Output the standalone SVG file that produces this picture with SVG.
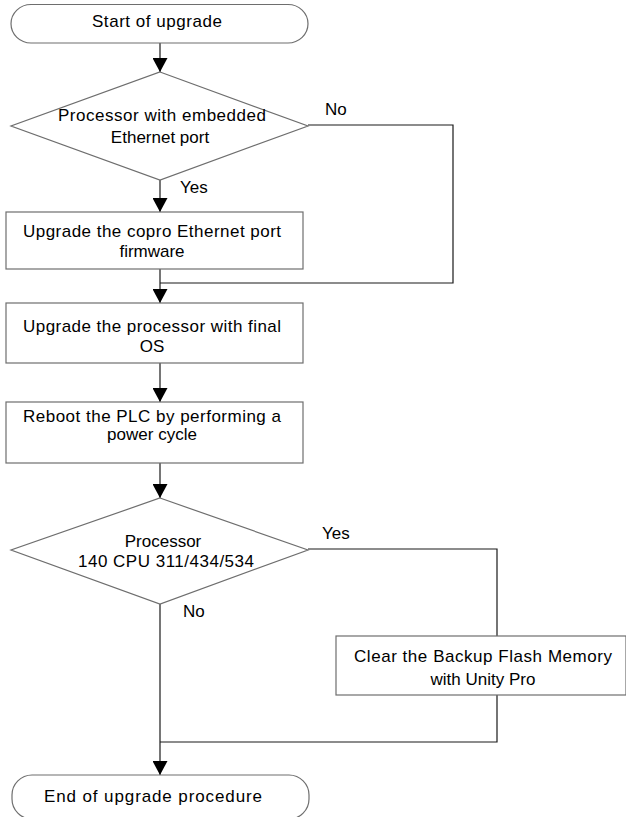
<svg xmlns="http://www.w3.org/2000/svg" width="626" height="817" viewBox="0 0 626 817">
<defs>
<style>
.shape{fill:#fff;stroke:#6e6e6e;stroke-width:1.2}
.conn{fill:none;stroke:#1a1a1a;stroke-width:1.2}
text{font-family:"Liberation Sans",Arial,sans-serif;font-size:17px;fill:#000}
.c{text-anchor:middle}
</style>
<marker id="ah" viewBox="0 0 14 15" refX="14" refY="7.5" markerWidth="14" markerHeight="15" markerUnits="userSpaceOnUse" orient="auto">
<path d="M0,0 L14,7.5 L0,15 z" fill="#000"/>
</marker>
</defs>
<rect width="626" height="817" fill="#fff"/>
<g id="connectors">
<line class="conn" x1="160" y1="43" x2="160" y2="72" marker-end="url(#ah)"/>
<line class="conn" x1="160" y1="180" x2="160" y2="212" marker-end="url(#ah)"/>
<polyline class="conn" points="308,125 453,125 453,283 160,283"/>
<line class="conn" x1="160" y1="269" x2="160" y2="303" marker-end="url(#ah)"/>
<line class="conn" x1="160" y1="363" x2="160" y2="402" marker-end="url(#ah)"/>
<line class="conn" x1="160" y1="463" x2="160" y2="498" marker-end="url(#ah)"/>
<polyline class="conn" points="308,549 497,549 497,636"/>
<polyline class="conn" points="497,695 497,742 160,742"/>
<line class="conn" x1="160" y1="604" x2="160" y2="775" marker-end="url(#ah)"/>
<text x="325" y="115">No</text>
<text x="180" y="193">Yes</text>
<text x="322" y="539">Yes</text>
<text x="183" y="617">No</text>
</g>
<g id="start">
<rect class="shape" x="11" y="4.5" width="297" height="38.5" rx="20" ry="19.25"/>
<text class="c" x="157" y="27" textLength="130">Start of upgrade</text>
</g>
<g id="decision1">
<polygon class="shape" points="160,72 308,126 160,180 11,126"/>
<text class="c" x="162" y="121" textLength="208">Processor with embedded</text>
<text class="c" x="160" y="143">Ethernet port</text>
</g>
<g id="box1">
<rect class="shape" x="6" y="212" width="297" height="57"/>
<text class="c" x="152" y="237" textLength="258">Upgrade the copro Ethernet port</text>
<text class="c" x="152" y="257">firmware</text>
</g>
<g id="box2">
<rect class="shape" x="6" y="303" width="297" height="60"/>
<text class="c" x="152" y="332" textLength="258">Upgrade the processor with final</text>
<text class="c" x="152" y="352">OS</text>
</g>
<g id="box3">
<rect class="shape" x="6" y="402" width="297" height="61"/>
<text class="c" x="152" y="422" textLength="258">Reboot the PLC by performing a</text>
<text class="c" x="152" y="440">power cycle</text>
</g>
<g id="decision2">
<polygon class="shape" points="160,498 308,550 160,604 11,550"/>
<text class="c" x="163" y="547">Processor</text>
<text class="c" x="166" y="567" textLength="176">140 CPU 311/434/534</text>
</g>
<g id="box4">
<rect class="shape" x="336" y="636" width="290" height="59"/>
<text class="c" x="483" y="662" textLength="258">Clear the Backup Flash Memory</text>
<text class="c" x="483" y="685">with Unity Pro</text>
</g>
<g id="end">
<rect class="shape" x="12" y="775" width="297" height="44" rx="20" ry="20"/>
<text class="c" x="153" y="802" textLength="218">End of upgrade procedure</text>
</g>
</svg>
